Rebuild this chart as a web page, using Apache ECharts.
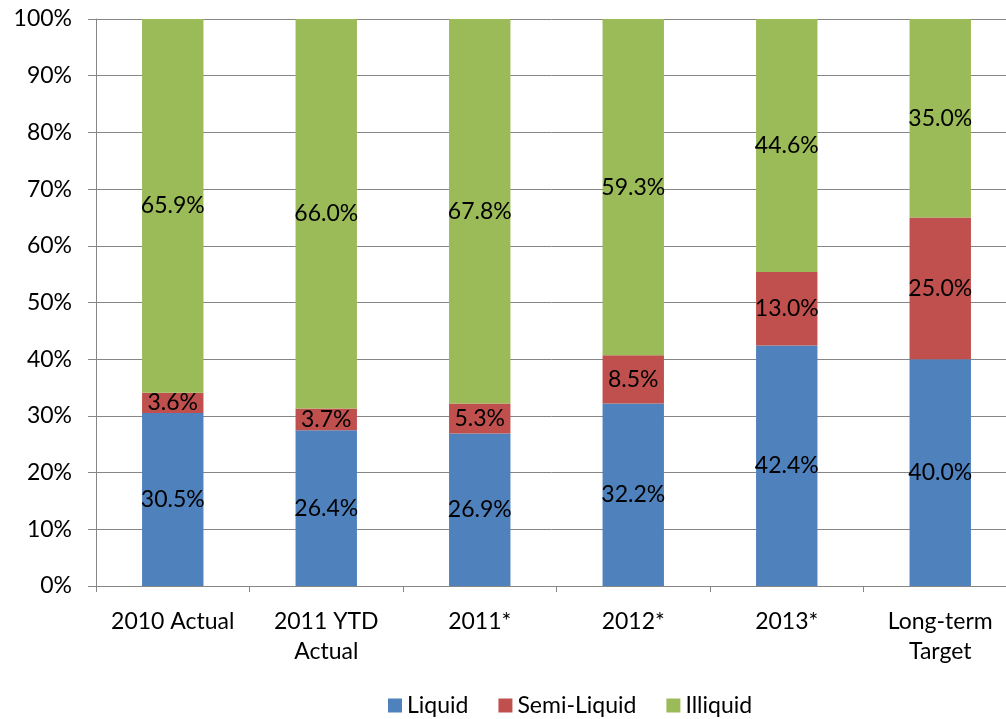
<!DOCTYPE html>
<html>
<head>
<meta charset="utf-8">
<script src="https://cdn.jsdelivr.net/npm/echarts@6/dist/echarts.min.js"></script>
<style>
html,body{margin:0;padding:0;background:#fff;}
#chart{width:1006px;height:719px;}
</style>
</head>
<body>
<div id="chart"></div>
<script>
const categories = ['2010 Actual', '2011 YTD\nActual', '2011*', '2012*', '2013*', 'Long-term\nTarget'];
const liquid = [30.5, 26.4, 26.9, 32.2, 42.4, 40.0];
const semiLiquid = [3.6, 3.7, 5.3, 8.5, 13.0, 25.0];
const illiquid = [65.9, 66.0, 67.8, 59.3, 44.6, 35.0];
const yTicks = [0, 10, 20, 30, 40, 50, 60, 70, 80, 90, 100];

const FONT = 'Lato, "Open Sans", sans-serif';
const FS = 23;
const totals = categories.map((c, i) => liquid[i] + semiLiquid[i] + illiquid[i]);
function share(arr) {
  return arr.map((v, i) => ({ value: v / totals[i] * 100, raw: v }));
}

const chart = echarts.init(document.getElementById('chart'));
const labelCfg = {
  show: true,
  position: 'inside',
  color: '#000',
  fontFamily: FONT,
  fontSize: FS,
  formatter: p => p.data.raw.toFixed(1) + '%'
};
function series(name, arr, color) {
  return {
    name, type: 'bar', stack: 'total', barWidth: '40%',
    data: share(arr),
    itemStyle: { color },
    label: labelCfg
  };
}
chart.setOption({
  animation: false,
  textStyle: { fontFamily: FONT },
  grid: { left: 96, width: 921, top: 19, bottom: 133, containLabel: false, outerBoundsMode: 'none' },
  legend: {
    top: 689,
    left: 383,
    icon: 'rect',
    itemWidth: 14,
    itemHeight: 14,
    itemGap: 30,
    itemTextGap: 9,
    textStyle: { fontFamily: FONT, fontSize: FS, color: '#000' },
    data: ['Liquid', 'Semi-Liquid', 'Illiquid']
  },
  xAxis: {
    type: 'category',
    data: categories,
    axisLine: { lineStyle: { color: '#868686', width: 1 } },
    axisTick: { show: true, length: 6, interval: 0, lineStyle: { color: '#868686' } },
    axisLabel: { color: '#000', fontSize: FS, fontFamily: FONT, lineHeight: 30, margin: 21, interval: 0 }
  },
  yAxis: {
    type: 'value',
    min: yTicks[0],
    max: yTicks[yTicks.length - 1],
    interval: yTicks[1] - yTicks[0],
    axisLine: { show: true, lineStyle: { color: '#868686', width: 1 } },
    axisTick: { show: true, length: 8, lineStyle: { color: '#868686' } },
    splitLine: { show: true, lineStyle: { color: '#868686', width: 1 } },
    axisLabel: { color: '#000', fontSize: FS, fontFamily: FONT, margin: 24, formatter: '{value}%' }
  },
  series: [
    series('Liquid', liquid, '#4F81BD'),
    series('Semi-Liquid', semiLiquid, '#C0504D'),
    series('Illiquid', illiquid, '#9BBB59')
  ]
});
</script>
</body>
</html>
